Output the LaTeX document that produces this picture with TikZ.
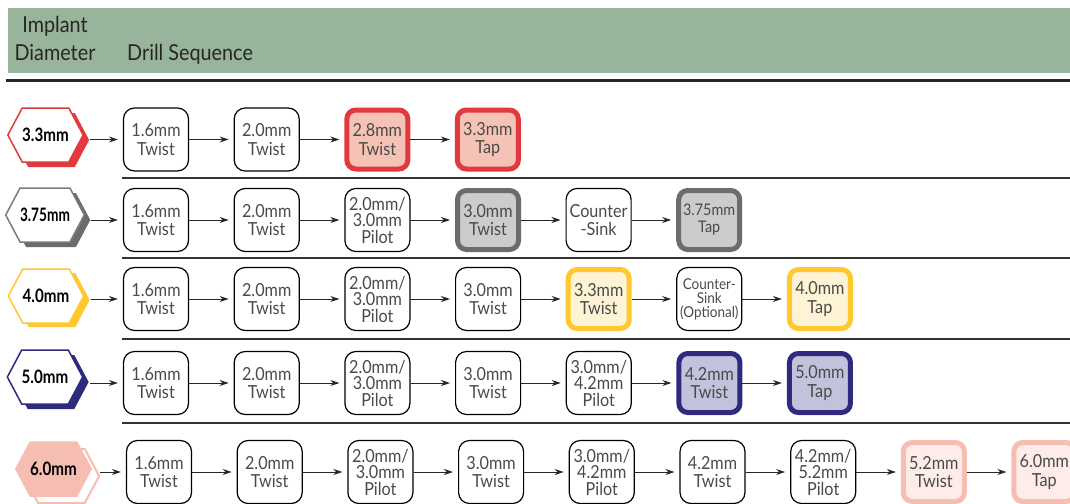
\documentclass[tikz,border=0pt]{standalone}
\usepackage{fontspec}
\setmainfont[FakeStretch=0.9]{Lato}
\newfontfamily\hexfont[FakeStretch=0.82]{Lato}
\usetikzlibrary{positioning,arrows.meta,shapes.symbols,shadows}

\definecolor{headgreen}{HTML}{98B49B}
\definecolor{boxtext}{HTML}{4A4A4A}
\definecolor{hexred}{HTML}{E2393F}
\definecolor{fillred}{HTML}{F4C3B6}
\definecolor{hexgray}{HTML}{6A6D69}
\definecolor{fillgray}{HTML}{CBCDCD}
\definecolor{hexyellow}{HTML}{FFC82E}
\definecolor{fillyellow}{HTML}{FFF3D6}
\definecolor{hexnavy}{HTML}{2F2A7D}
\definecolor{fillnavy}{HTML}{C3C2DC}
\definecolor{hexpink}{HTML}{F6BDB2}
\definecolor{fillpink}{HTML}{FDECE8}

\tikzset{
  stepbox/.style={draw, rounded corners=11pt, line width=1.2pt,
    minimum width=65pt, minimum height=63pt, inner sep=0pt,
    align=center, text=boxtext, font=\fontsize{18}{18.5}\selectfont},
  keybox/.style={stepbox, line width=5pt, minimum width=61pt,
    minimum height=59pt, rounded corners=9pt},
  hexnode/.style={signal, signal to=east and west, signal pointer angle=124,
    minimum width=73pt, minimum height=54pt, inner sep=0pt, line width=1.5pt,
    fill=white, font=\hexfont\bfseries\fontsize{18.5}{18.5}\selectfont},
  headtext/.style={anchor=base, inner sep=0pt, text=black!85,
    font=\fontsize{22}{22}\selectfont},
  sepline/.style={line width=1.5pt, black!80},
  arr/.style={-{Stealth[length=9pt,width=6pt]}, line width=0.9pt, black!85,
    shorten >=5pt},
}

\begin{document}
\begin{tikzpicture}[x=1pt,y=-1pt,node distance=44.5pt]
    \useasboundingbox (0,0) rectangle (1070,503);

    % Header
    \fill[headgreen] (8,8) rectangle (1070,73);
    \node[headtext] (implant) at (55,33) {Implant};
    \node[headtext] (diameter) at (55,60) {Diameter};
    \node[headtext, anchor=base west] (drillseq) at (127,60) {Drill Sequence};
    \draw[line width=3pt, black!85] (6,80.5) -- (1070,80.5);

    % Separators
    \draw[sepline] (122,178) -- (1070,178);
    \draw[sepline] (122,258) -- (1070,258);
    \draw[sepline] (122,339) -- (1070,339);
    \draw[sepline] (122,423) -- (1070,423);

    % Implant diameters
    \node[hexnode, draw=hexred,
      general shadow={shadow xshift=6pt, shadow yshift=-5pt, fill=hexred}]
      (h1) at (45.5,135) {3.3mm};
    \node[hexnode, draw=hexgray!90,
      general shadow={shadow xshift=6pt, shadow yshift=-5pt, fill=hexgray}]
      (h2) at (45,215) {\scalebox{0.9}[1]{3.75mm}};
    \node[hexnode, draw=hexyellow,
      general shadow={shadow xshift=6pt, shadow yshift=-4pt, fill=hexyellow}]
      (h3) at (46,296) {4.0mm};
    \node[hexnode, draw=hexnavy,
      general shadow={shadow xshift=6pt, shadow yshift=-5pt, fill=hexnavy}]
      (h4) at (45,377) {5.0mm};
    \node[hexnode, draw=hexpink, fill=hexpink,
      general shadow={shadow xshift=8pt, shadow yshift=-7pt, fill=white,
        draw=hexpink, line width=2pt}]
      (h5) at (53.5,469) {6.0mm};

    % 3.3mm
    \node[stepbox] (a1) at (156,139.5) {1.6mm\\Twist};
    \node[stepbox, right=of a1] (a2) {2.0mm\\Twist};
    \node[keybox, draw=hexred, fill=fillred, right=of a2] (a3) {2.8mm\\Twist};
    \node[keybox, draw=hexred, fill=fillred, right=of a3] (a4) {3.3mm\\Tap};

    % 3.75mm
    \node[stepbox] (b1) at (156,220) {1.6mm\\Twist};
    \node[stepbox, right=of b1] (b2) {2.0mm\\Twist};
    \node[stepbox, right=of b2, font=\fontsize{18}{16.5}\selectfont]
      (b3) {2.0mm/\\3.0mm\\Pilot};
    \node[keybox, draw=hexgray, fill=fillgray, right=of b3] (b4) {3.0mm\\Twist};
    \node[stepbox, right=of b4] (b5) {Counter\\-Sink};
    \node[keybox, draw=hexgray, fill=fillgray, right=of b5,
      font=\fontsize{16}{17}\selectfont] (b6) {3.75mm\\Tap};

    % 4.0mm
    \node[stepbox] (c1) at (156,299) {1.6mm\\Twist};
    \node[stepbox, right=of c1] (c2) {2.0mm\\Twist};
    \node[stepbox, right=of c2, font=\fontsize{18}{16.5}\selectfont]
      (c3) {2.0mm/\\3.0mm\\Pilot};
    \node[stepbox, right=of c3] (c4) {3.0mm\\Twist};
    \node[keybox, draw=hexyellow, fill=fillyellow, right=of c4] (c5) {3.3mm\\Twist};
    \node[stepbox, right=of c5, font=\fontsize{15}{14}\selectfont]
      (c6) {Counter-\\Sink\\(Optional)};
    \node[keybox, draw=hexyellow, fill=fillyellow, right=of c6] (c7) {4.0mm\\Tap};

    % 5.0mm
    \node[stepbox] (d1) at (156,383) {1.6mm\\Twist};
    \node[stepbox, right=of d1] (d2) {2.0mm\\Twist};
    \node[stepbox, right=of d2, font=\fontsize{18}{16.5}\selectfont]
      (d3) {2.0mm/\\3.0mm\\Pilot};
    \node[stepbox, right=of d3] (d4) {3.0mm\\Twist};
    \node[stepbox, right=of d4, font=\fontsize{18}{16.5}\selectfont]
      (d5) {3.0mm/\\4.2mm\\Pilot};
    \node[keybox, draw=hexnavy, fill=fillnavy, right=of d5] (d6) {4.2mm\\Twist};
    \node[keybox, draw=hexnavy, fill=fillnavy, right=of d6] (d7) {5.0mm\\Tap};

    % 6.0mm
    \node[stepbox] (e1) at (159,472) {1.6mm\\Twist};
    \node[stepbox, right=of e1] (e2) {2.0mm\\Twist};
    \node[stepbox, right=of e2, font=\fontsize{18}{16.5}\selectfont]
      (e3) {2.0mm/\\3.0mm\\Pilot};
    \node[stepbox, right=of e3] (e4) {3.0mm\\Twist};
    \node[stepbox, right=of e4, font=\fontsize{18}{16.5}\selectfont]
      (e5) {3.0mm/\\4.2mm\\Pilot};
    \node[stepbox, right=of e5] (e6) {4.2mm\\Twist};
    \node[stepbox, right=of e6, font=\fontsize{18}{16.5}\selectfont]
      (e7) {4.2mm/\\5.2mm\\Pilot};
    \node[keybox, draw=hexpink, fill=fillpink, right=of e7] (e8) {5.2mm\\Twist};
    \node[keybox, draw=hexpink, fill=fillpink, right=of e8] (e9) {6.0mm\\Tap};

    % Arrows
    \draw[arr, shorten <=6pt] (h1.east |- a1.west) -- (a1.west);
    \draw[arr, shorten <=6pt] (h2.east |- b1.west) -- (b1.west);
    \draw[arr, shorten <=6pt] (h3.east |- c1.west) -- (c1.west);
    \draw[arr, shorten <=6pt] (h4.east |- d1.west) -- (d1.west);
    \draw[arr, shorten <=8pt] (h5.east |- e1.west) -- (e1.west);
    \draw[arr] (a1) -- (a2);
    \draw[arr] (a2) -- (a3);
    \draw[arr] (a3) -- (a4);
    \draw[arr] (b1) -- (b2);
    \draw[arr] (b2) -- (b3);
    \draw[arr] (b3) -- (b4);
    \draw[arr] (b4) -- (b5);
    \draw[arr] (b5) -- (b6);
    \draw[arr] (c1) -- (c2);
    \draw[arr] (c2) -- (c3);
    \draw[arr] (c3) -- (c4);
    \draw[arr] (c4) -- (c5);
    \draw[arr] (c5) -- (c6);
    \draw[arr] (c6) -- (c7);
    \draw[arr] (d1) -- (d2);
    \draw[arr] (d2) -- (d3);
    \draw[arr] (d3) -- (d4);
    \draw[arr] (d4) -- (d5);
    \draw[arr] (d5) -- (d6);
    \draw[arr] (d6) -- (d7);
    \draw[arr] (e1) -- (e2);
    \draw[arr] (e2) -- (e3);
    \draw[arr] (e3) -- (e4);
    \draw[arr] (e4) -- (e5);
    \draw[arr] (e5) -- (e6);
    \draw[arr] (e6) -- (e7);
    \draw[arr] (e7) -- (e8);
    \draw[arr] (e8) -- (e9);
\end{tikzpicture}
\end{document}
